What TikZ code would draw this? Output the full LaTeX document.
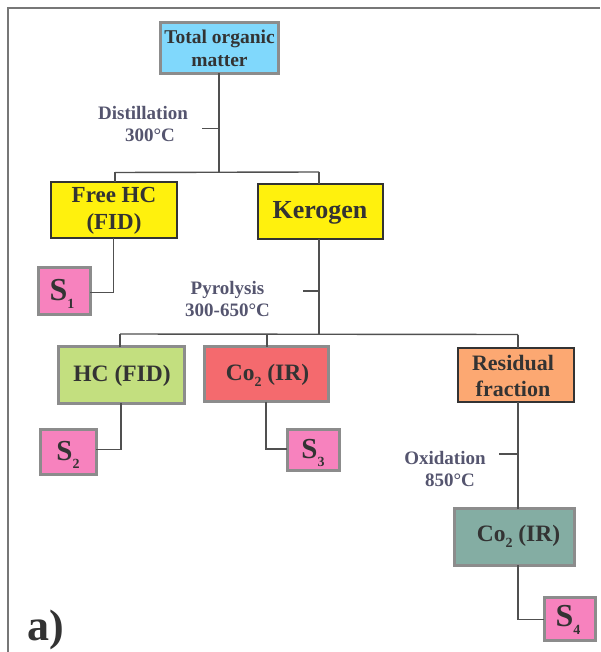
\documentclass[tikz,border=0pt]{standalone}
\usepackage{fontspec}
\setmainfont{Liberation Serif}
\definecolor{txt}{HTML}{333333}
\definecolor{lab}{HTML}{55556F}
\definecolor{wire}{HTML}{505050}
\definecolor{grayb}{HTML}{8C8C8C}
\definecolor{darkb}{HTML}{333333}
\definecolor{cblue}{HTML}{80D8FC}
\definecolor{cyellow}{HTML}{FFF10D}
\definecolor{cpink}{HTML}{F782BE}
\definecolor{cgreen}{HTML}{C3DF7F}
\definecolor{cred}{HTML}{F46A6E}
\definecolor{corange}{HTML}{FCA872}
\definecolor{cteal}{HTML}{84ADA3}
\newcommand{\lsub}[1]{\raisebox{-0.25em}{\fontsize{14}{14}\selectfont #1}}
\tikzset{
  every node/.style={font=\bfseries, text=txt, align=center, inner sep=0pt, outer sep=0pt},
  thick box/.style={line width=3pt, draw=grayb},
  thin box/.style={line width=2pt, draw=darkb},
  wirep/.style={draw=wire, line width=1.4pt},
  note/.style={text=lab, font=\bfseries\fontsize{19}{21.5}\selectfont},
  bt/.style={font=\bfseries\fontsize{23.5}{27}\selectfont},
}
\newcommand{\bx}[7]{%
  \node[#6, fill=#7, minimum width={#4pt-#2pt}, minimum height={#5pt-#3pt}, anchor=north west] (#1) at (#2,#3) {};}
\begin{document}
\begin{tikzpicture}[x=1pt,y=-1pt]
\useasboundingbox (0,0) rectangle (600,652);
\fill[white] (0,0) rectangle (600,652);
\draw[draw=grayb!85!black, line width=1.3pt] (8,652) -- (8,8) -- (600,8);
% boxes
\bx{total}{160.5}{22.5}{278.5}{73.5}{thick box}{cblue}
\bx{free}{51}{182.5}{177}{237.5}{thin box}{cyellow}
\bx{kerogen}{257.5}{184.5}{383}{238.5}{thin box}{cyellow}
\bx{sone}{38.5}{267.5}{90}{314}{thick box}{cpink}
\bx{hc}{58}{346.5}{184}{403}{thick box}{cgreen}
\bx{cored}{204}{346.5}{328}{401.5}{thick box}{cred}
\bx{resid}{457.5}{347.5}{574}{401.5}{thin box}{corange}
\bx{stwo}{40}{429.5}{96}{474}{thick box}{cpink}
\bx{sthree}{287}{429.5}{339}{470.5}{thick box}{cpink}
\bx{coteal}{454}{508.5}{574.5}{565}{thick box}{cteal}
\bx{sfour}{544}{597.5}{595.5}{640}{thick box}{cpink}
% texts
\node[font=\bfseries\fontsize{19.5}{23}\selectfont] at (219.5,48) {Total organic\\matter};
\node[font=\bfseries\fontsize{23}{27}\selectfont] at (114,211) {Free HC\\(FID)};
\node[font=\bfseries\fontsize{26}{30}\selectfont] at (320,213) {Kerogen};
\node[font=\bfseries\fontsize{32}{32}\selectfont] at (62,294) {S\lsub{1}};
\node[bt] at (122,376) {HC (FID)};
\node[bt] at (267.5,375) {Co\lsub{2} (IR)};
\node[font=\bfseries\fontsize{22}{26}\selectfont] at (513,375.5) {Residual\\fraction};
\node[font=\bfseries\fontsize{29}{29}\selectfont] at (68,455) {S\lsub{2}};
\node[font=\bfseries\fontsize{29}{29}\selectfont] at (313,453) {S\lsub{3}};
\node[bt] at (518.5,536) {Co\lsub{2} (IR)};
\node[font=\bfseries\fontsize{32}{32}\selectfont] at (568,620) {S\lsub{4}};
\node[note] at (143,124) {Distillation\\\hspace*{14pt}300°C};
\node[note] at (227.5,299) {Pyrolysis\\300-650°C};
\node[note] at (445,469) {Oxidation\\\hspace*{10pt}850°C};
\node[font=\bfseries\fontsize{44}{44}\selectfont, anchor=base west] (alabel) at (27,640) {a)};
% connectors
\coordinate (jtop) at (219,172);
\coordinate (jfree) at (115,172.5);
\coordinate (jker) at (319,172);
\coordinate (jmid) at (319,333.5);
\coordinate (jhc) at (120,334);
\coordinate (jco) at (267,334);
\coordinate (jres) at (518,334.5);
\coordinate (tdist) at (202,128.5);
\coordinate (tdistj) at (219,128.5);
\coordinate (tpyr) at (303,291);
\coordinate (tpyrj) at (319,291);
\coordinate (toxi) at (499,454);
\coordinate (toxij) at (518,454);
\draw[wirep] (total.south -| jtop) -- (jtop);
\draw[wirep] (tdist) -- (tdistj);
\draw[wirep] (jfree) -- (jker);
\draw[wirep] (jfree) -- (jfree |- free.north);
\draw[wirep] (jker) -- (jker |- kerogen.north);
\draw[wirep] (113.5,238) |- ([yshift=-2pt]sone.east);
\draw[wirep] (jmid |- kerogen.south) -- (jmid);
\draw[wirep] (tpyr) -- (tpyrj);
\draw[wirep] (jhc) -- (jres);
\draw[wirep] (jhc) -- (jhc |- hc.north);
\draw[wirep] (jco) -- (jco |- cored.north);
\draw[wirep] (jres) -- (jres |- resid.north);
\draw[wirep] (121,403) |- ([yshift=2pt]stwo.east);
\draw[wirep] (266,401.5) |- ([yshift=1pt]sthree.west);
\draw[wirep] (jres |- resid.south) -- (jres |- coteal.north);
\draw[wirep] (toxi) -- (toxij);
\draw[wirep] (jres |- coteal.south) |- ([yshift=-1pt]sfour.west);
\end{tikzpicture}
\end{document}
